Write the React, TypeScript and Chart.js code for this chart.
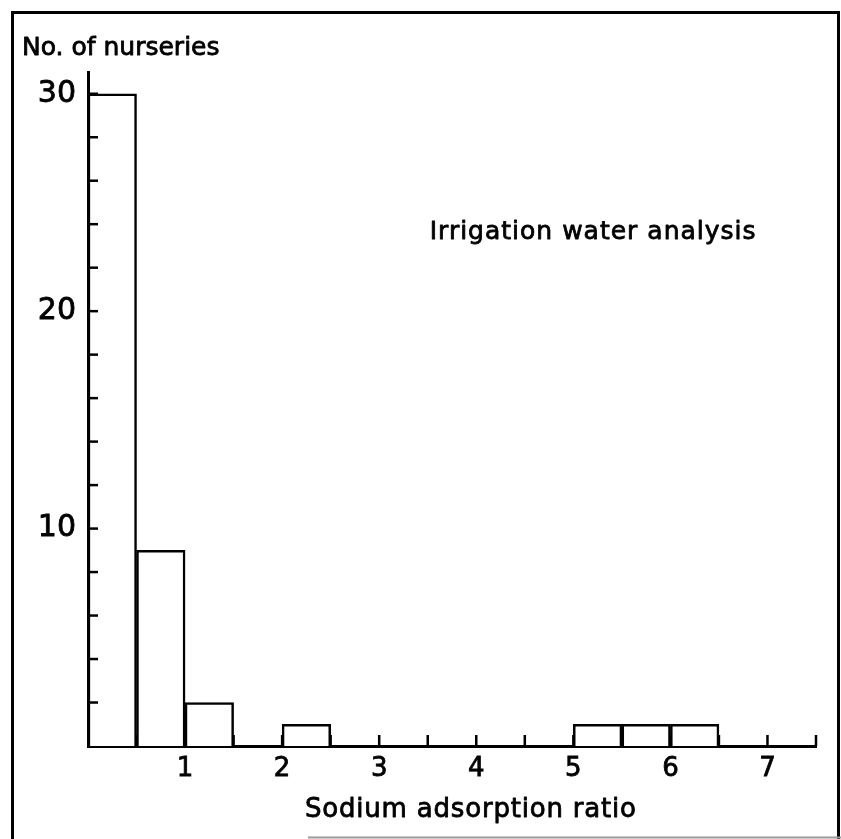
import React, { useEffect, useRef } from 'react';
import { Chart, registerables } from 'chart.js';

Chart.register(...registerables);

// Histogram bins (lower edge of each 0.5-wide bin) and number of nurseries
const binStarts = [0, 0.5, 1, 1.5, 2, 2.5, 3, 3.5, 4, 4.5, 5, 5.5, 6, 6.5, 7];
const nurseryCounts = [30, 9, 2, 0, 1, 0, 0, 0, 0, 0, 1, 1, 1, 0, 0];
const binWidth = 0.5;

const xTickValues = [0, 0.5, 1, 1.5, 2, 2.5, 3, 3.5, 4, 4.5, 5, 5.5, 6, 6.5, 7, 7.5];
const xTickLabels = ['', '', '1', '', '2', '', '3', '', '4', '', '5', '', '6', '', '7', ''];
const yTickValues = [0, 2, 4, 6, 8, 10, 12, 14, 16, 18, 20, 22, 24, 26, 28, 30];
const yTickLabels = ['', '', '', '', '', '10', '', '', '', '', '20', '', '', '', '', '30'];

const yTitle = 'No. of nurseries';
const xTitle = 'Sodium adsorption ratio';
const noteText = 'Irrigation water analysis';

const FONT = '"DejaVu Sans", Lato, sans-serif';
const W = 841;
const H = 839;

const decorPlugin = {
  id: 'decor',
  afterDraw(chart: any) {
    const ctx = chart.ctx as CanvasRenderingContext2D;
    const xs = chart.scales.x;
    const ys = chart.scales.y;
    ctx.save();
    ctx.strokeStyle = '#000';
    ctx.lineCap = 'butt';
    ctx.lineWidth = 2.5;
    const baseY = ys.getPixelForValue(0);
    const baseX = xs.getPixelForValue(0);
    xTickValues.forEach((v) => {
      if (v === 0) return;
      const px = xs.getPixelForValue(v);
      ctx.beginPath();
      ctx.moveTo(px, baseY);
      ctx.lineTo(px, baseY - 11);
      ctx.stroke();
    });
    yTickValues.forEach((v) => {
      if (v === 0) return;
      const py = ys.getPixelForValue(v);
      ctx.beginPath();
      ctx.moveTo(baseX, py);
      ctx.lineTo(baseX + 10, py);
      ctx.stroke();
    });

    // outer frame
    ctx.lineWidth = 3;
    ctx.beginPath();
    ctx.moveTo(12.5, 839);
    ctx.lineTo(12.5, 12.5);
    ctx.lineTo(838.5, 12.5);
    ctx.lineTo(838.5, 839);
    ctx.stroke();
    ctx.strokeStyle = '#9a9a9a';
    ctx.lineWidth = 2;
    ctx.beginPath();
    ctx.moveTo(308, 837.5);
    ctx.lineTo(841, 837.5);
    ctx.stroke();

    // texts
    ctx.fillStyle = '#000';
    ctx.strokeStyle = '#000';
    ctx.lineWidth = 0.8;
    ctx.lineJoin = 'round';
    ctx.textAlign = 'left';
    ctx.textBaseline = 'alphabetic';
    const put = (t: string, x: number, y: number) => {
      ctx.strokeText(t, x, y);
      ctx.fillText(t, x, y);
    };
    ctx.font = `25px ${FONT}`;
    put(yTitle, 22, 55);
    (ctx as any).letterSpacing = '1px';
    put(noteText, xs.getPixelForValue(3.52), ys.getPixelForValue(23.3));
    ctx.font = `26px ${FONT}`;
    (ctx as any).letterSpacing = '0.8px';
    put(xTitle, 305, 817);
    ctx.restore();
  },
};

export default function App() {
  const ref = useRef<HTMLCanvasElement | null>(null);

  useEffect(() => {
    document.body.style.margin = '0';
    document.documentElement.style.overflow = 'hidden';
    if (!ref.current) return;
    const points = binStarts
      .map((s, i) => ({ x: s + binWidth / 2, y: nurseryCounts[i] }))
      .filter((p) => p.y > 0);
    const chart = new Chart(ref.current, {
      type: 'bar',
      data: {
        datasets: [
          {
            data: points,
            backgroundColor: '#ffffff',
            borderColor: '#000000',
            borderWidth: 2.5,
            borderSkipped: 'start',
            barPercentage: 1,
            categoryPercentage: 1,
          },
        ],
      },
      options: {
        animation: false,
        responsive: false,
        devicePixelRatio: 1,
        layout: { padding: { left: 0, top: 72, right: 25, bottom: 0 } },
        plugins: { legend: { display: false }, tooltip: { enabled: false }, title: { display: false } },
        scales: {
          x: {
            type: 'linear',
            min: 0,
            max: 7.5,
            offset: false,
            z: 1,
            afterBuildTicks: (scale: any) => {
              scale.ticks = xTickValues.map((v) => ({ value: v }));
            },
            afterFit: (scale: any) => {
              scale.height = 93;
            },
            grid: { display: false, drawTicks: false, offset: false },
            border: { display: true, color: '#000', width: 3 },
            ticks: {
              autoSkip: false,
              maxRotation: 0,
              padding: 8,
              color: '#000',
              textStrokeColor: '#000',
              textStrokeWidth: 0.8,
              font: { family: FONT, size: 26 },
              callback: (v: any) => {
                const i = xTickValues.indexOf(Number(v));
                return i >= 0 ? xTickLabels[i] : '';
              },
            },
          },
          y: {
            type: 'linear',
            min: 0,
            max: 31,
            z: 1,
            afterBuildTicks: (scale: any) => {
              scale.ticks = yTickValues.map((v) => ({ value: v }));
            },
            afterFit: (scale: any) => {
              scale.width = 88;
            },
            grid: { display: false, drawTicks: false },
            border: { display: true, color: '#000', width: 3 },
            ticks: {
              autoSkip: false,
              padding: 12,
              color: '#000',
              textStrokeColor: '#000',
              textStrokeWidth: 0.8,
              font: { family: FONT, size: 30 },
              callback: (v: any) => {
                const i = yTickValues.indexOf(Number(v));
                return i >= 0 ? yTickLabels[i] : '';
              },
            },
          },
        },
      },
      plugins: [decorPlugin],
    } as any);
    return () => chart.destroy();
  }, []);

  return <canvas ref={ref} width={W} height={H} style={{ display: 'block' }} />;
}
